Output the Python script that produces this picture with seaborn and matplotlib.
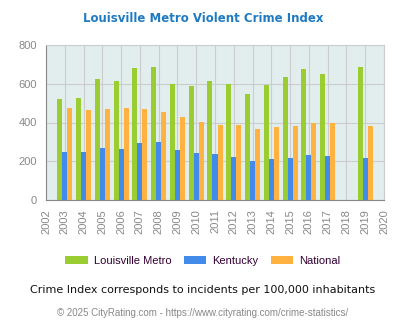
import matplotlib
matplotlib.use("Agg")
import matplotlib.pyplot as plt
import seaborn as sns
import pandas as pd

years = [2003, 2004, 2005, 2006, 2007, 2008, 2009, 2010, 2011, 2012,
         2013, 2014, 2015, 2016, 2017, 2019]
louisville = [521, 526, 624, 614, 681, 686, 599, 588, 614, 599,
              547, 594, 635, 676, 650, 686]
kentucky = [248, 248, 270, 263, 294, 299, 258, 243, 237, 222,
            201, 212, 217, 232, 227, 217]
national = [475, 464, 470, 475, 470, 454, 428, 403, 387, 387,
            366, 377, 382, 397, 397, 382]
series_names = ["Louisville Metro", "Kentucky", "National"]
colors = ["#9ACD32", "#428BEA", "#FFB240"]
tick_years = list(range(2002, 2021))

rows = []
for name, vals in zip(series_names, [louisville, kentucky, national]):
    for y, v in zip(years, vals):
        rows.append({"year": y, "value": v, "series": name})
df = pd.DataFrame(rows)

sns.set_style("white")
fig = plt.figure(figsize=(4.06, 3.30), dpi=100)
ax = fig.add_axes([46/406, 1-200/330, (384-46)/406, 155/330])
ax.set_facecolor("#E2EDED")

sns.barplot(data=df, x="year", y="value", hue="series", hue_order=series_names,
            palette=colors, native_scale=True, width=0.8, saturation=1,
            ax=ax, legend=True, errorbar=None, linewidth=0, gap=0)

ax.set_xlim(2002, 2020)
ax.set_ylim(0, 800)
ax.set_xticks(tick_years)
ax.set_xticklabels([str(t) for t in tick_years], rotation=90)
ax.set_yticks([0, 200, 400, 600, 800])
ax.tick_params(axis="both", labelsize=7, colors="#888888", length=3, width=0.8)
for lbl in ax.get_xticklabels() + ax.get_yticklabels():
    lbl.set_color("#888888")
    lbl.set_family("Liberation Sans")
    lbl.set_fontsize(8)
ax.grid(True, color="#CCCCCC", linewidth=0.8)
ax.set_axisbelow(True)
ax.set_xlabel("")
ax.set_ylabel("")
for s in ["top", "right"]:
    ax.spines[s].set_color("#CCCCCC")
for s in ["left", "bottom"]:
    ax.spines[s].set_color("#888888")

handles, labels = ax.get_legend_handles_labels()
ax.get_legend().remove()
fig.legend(handles, labels, loc="center", bbox_to_anchor=(0.5, 1-261/330),
           ncol=3, frameon=False, prop={"family": "Liberation Sans", "size": 8},
           handlelength=2.0, handleheight=0.75, columnspacing=1.15, handletextpad=0.55,
           labelcolor="#330033")

fig.text(0.5, 1-18/330, "Louisville Metro Violent Crime Index", ha="center",
         va="center", fontsize=8.5, fontweight="bold", color="#1F7BC1")
fig.text(0.5, 1-290/330, "Crime Index corresponds to incidents per 100,000 inhabitants",
         ha="center", va="center", fontsize=8, color="#111111")
fig.text(0.5, 1-313/330, "\u00a9 2025 CityRating.com - https://www.cityrating.com/crime-statistics/",
         ha="center", va="center", fontsize=7, color="#888888", family="Liberation Sans")

fig.savefig("out.png", dpi=100)
